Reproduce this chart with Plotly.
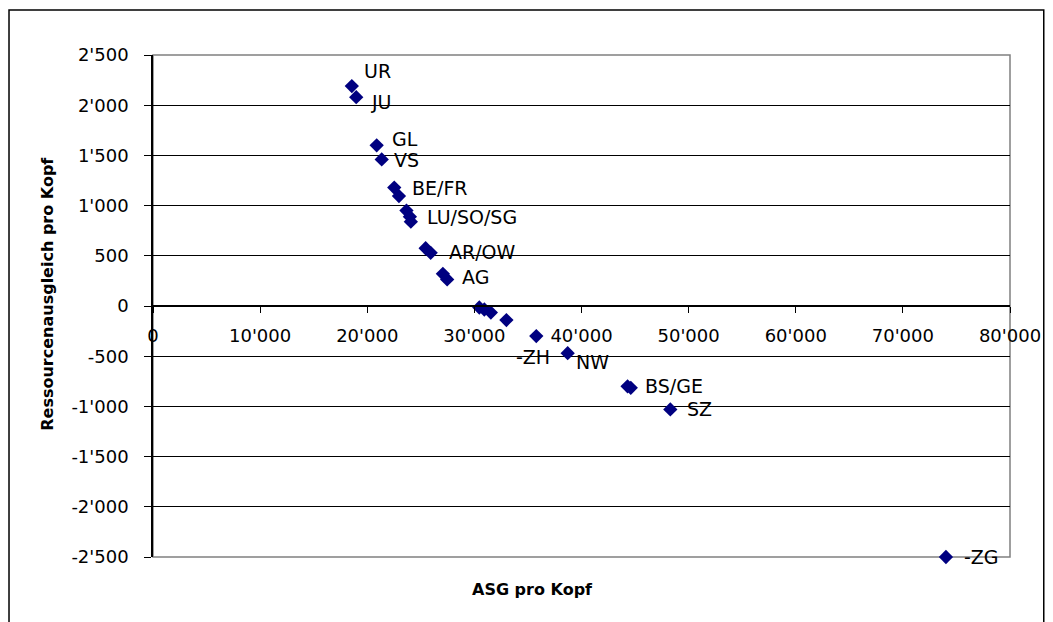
import plotly.graph_objects as go

# ASG per capita (x) and resource equalisation per capita (y), one entry per canton
canton = ["UR", "JU", "GL", "VS", "BE", "FR", "LU", "SO", "SG", "AR", "OW",
          "AG", "", "", "", "", "", "ZH", "NW", "BS", "GE", "SZ", "ZG"]
asg_pro_kopf = [18560, 18970, 20880, 21350, 22520, 22960, 23660, 23980, 24070,
                25450, 25920, 27060, 27460, 30460, 30930, 31540, 32990,
                35780, 38710, 44300, 44600, 48290, 74020]
ressourcenausgleich = [2190, 2080, 1600, 1460, 1180, 1095, 950, 890, 840,
                       575, 530, 320, 265, -15, -35, -65, -140,
                       -300, -470, -800, -815, -1030, -2500]

# Group labels and the point each one is attached to
label_text = ["UR", "JU", "GL", "VS", "BE/FR", "LU/SO/SG", "AR/OW", "AG",
              "-ZH", "NW", "BS/GE", "SZ", "-ZG"]
label_anchor = ["UR", "JU", "GL", "VS", "BE", "SO", "OW", "AG",
                "ZH", "NW", "BS", "SZ", "ZG"]

x_ticks = list(range(0, 80001, 10000))
y_ticks = list(range(-2500, 2501, 500))


def swiss(v):
    return f"{v:,}".replace(",", "'")


# pixel offsets of each label relative to its point (right, down)
label_offset = {
    "UR": (11, -15), "JU": (14, 5), "GL": (14, -6), "VS": (11, 1),
    "BE/FR": (17, 0), "LU/SO/SG": (16, 0), "AR/OW": (17, -1), "AG": (18, 3),
    "-ZH": (-21, 21), "NW": (7, 9), "BS/GE": (16, 0), "SZ": (16, 0),
    "-ZG": (17, 0),
}

W, H = 1053, 622
L, R, T, B = 153, 37, 55, 65
pw, ph = W - L - R, H - T - B

fig = go.Figure()
fig.add_trace(go.Scatter(
    x=asg_pro_kopf, y=ressourcenausgleich, mode="markers",
    marker=dict(symbol="diamond", size=11, color="#000080"),
    text=canton, hoverinfo="text+x+y", cliponaxis=False, showlegend=False,
))

annotations = []
for txt, anc in zip(label_text, label_anchor):
    i = canton.index(anc)
    dx, dy = label_offset[txt]
    annotations.append(dict(
        x=asg_pro_kopf[i], y=ressourcenausgleich[i], xref="x", yref="y",
        text=txt, showarrow=False, xanchor="left", yanchor="middle",
        xshift=dx, yshift=-dy, borderpad=0,
        font=dict(family="DejaVu Sans", size=19, color="#000000"),
    ))

# axis titles
annotations.append(dict(
    x=(535 - L) / pw, y=(H - B - 589) / ph, xref="paper", yref="paper",
    text="ASG pro Kopf", showarrow=False, xanchor="center", yanchor="middle",
    font=dict(family="DejaVu Sans", size=16, color="#000000", weight="bold"),
))
annotations.append(dict(
    x=(46 - L) / pw, y=(H - B - 294) / ph, xref="paper", yref="paper",
    text="Ressourcenausgleich pro Kopf", showarrow=False, textangle=-90,
    xanchor="center", yanchor="middle",
    font=dict(family="DejaVu Sans", size=16, color="#000000", weight="bold"),
))

shapes = [
    # plot-area frame
    dict(type="rect", xref="paper", yref="paper", x0=0, x1=1, y0=0, y1=1,
         line=dict(color="#808080", width=1.5), layer="below"),
    # outer chart frame
    dict(type="rect", xref="paper", yref="paper",
         x0=(8 - L) / pw, x1=(1050 - L) / pw,
         y0=(H - B - 630) / ph, y1=(H - B - 10) / ph,
         line=dict(color="#000000", width=1.5), layer="below"),
]

fig.update_layout(
    width=W, height=H,
    margin=dict(l=L, r=R, t=T, b=B, pad=0),
    paper_bgcolor="white", plot_bgcolor="white",
    font=dict(family="DejaVu Sans", size=18, color="#000000"),
    annotations=annotations, shapes=shapes,
    xaxis=dict(
        range=[0, 80000], tickvals=x_ticks, ticktext=[swiss(v) for v in x_ticks],
        anchor="free", position=0.5, showline=True, linecolor="#000000",
        linewidth=1.5, ticks="outside", ticklen=6, tickcolor="#000000",
        showgrid=False, zeroline=False, ticklabelstandoff=8,
        tickfont=dict(family="DejaVu Sans", size=18, color="#000000"),
    ),
    yaxis=dict(
        range=[-2500, 2500], tickvals=y_ticks, ticktext=[swiss(v) for v in y_ticks],
        showline=True, linecolor="#000000", linewidth=1.5,
        ticks="outside", ticklen=7, tickcolor="#000000",
        showgrid=True, gridcolor="#000000", gridwidth=1.2, zeroline=False,
        ticklabelstandoff=12,
        tickfont=dict(family="DejaVu Sans", size=18, color="#000000"),
    ),
)

fig.write_html("out.html")
